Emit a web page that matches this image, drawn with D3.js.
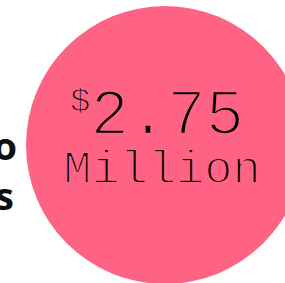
<!DOCTYPE html>
<html>
<head>
<meta charset="utf-8">
<script src="https://cdn.jsdelivr.net/npm/d3@7"></script>
<style>
  html, body { margin: 0; padding: 0; background: #fff; overflow: hidden; }
  svg { display: block; }
</style>
</head>
<body>
<div id="chart"></div>
<script>
// values
const amounts = [2.75];
const prefixes = ["$"];
const units = ["Million"];
const sideLabels = ["o", "s"]; // clipped bold labels on the left edge

const width = 285,
  height = 283;
const pink = "#ff6384";
const mono = "'Liberation Mono', 'Courier New', monospace";

const svg = d3
  .select("#chart")
  .append("svg")
  .attr("width", width)
  .attr("height", height)
  .attr("viewBox", [0, 0, width, height]);

const r = d3.scaleSqrt().domain([0, 2.75]).range([0, 139]);

const cx = 165,
  cy = 145;

svg
  .selectAll(".bubble")
  .data(amounts)
  .join("circle")
  .attr("class", "bubble")
  .attr("cx", cx)
  .attr("cy", cy)
  .attr("r", (d) => r(d))
  .attr("fill", pink);

// the reference face is a thin courier; thin the mono glyphs with a pink stroke
const valueText = svg
  .append("text")
  .attr("x", 70)
  .attr("y", 134)
  .attr("font-family", mono)
  .attr("fill", "#000")
  .attr("stroke", pink)
  .attr("paint-order", "fill");

valueText
  .append("tspan")
  .attr("font-size", 34)
  .attr("stroke-width", 1.3)
  .attr("dy", -23)
  .text(prefixes[0]);

valueText
  .append("tspan")
  .attr("font-size", 64)
  .attr("stroke-width", 2.6)
  .attr("dy", 23)
  .text(d3.format(".2f")(amounts[0]));

svg
  .append("text")
  .attr("x", 162)
  .attr("y", 183)
  .attr("text-anchor", "middle")
  .attr("font-family", mono)
  .attr("font-size", 47)
  .attr("fill", "#000")
  .attr("stroke", pink)
  .attr("stroke-width", 2)
  .text(units[0]);

svg
  .selectAll(".side")
  .data(sideLabels)
  .join("text")
  .attr("class", "side")
  .attr("x", (d, i) => (i === 0 ? 17 : 14))
  .attr("y", (d, i) => 160 + i * 50)
  .attr("text-anchor", "end")
  .attr("font-family", "'Open Sans', sans-serif")
  .attr("font-weight", 700)
  .attr("font-size", 38)
  .attr("fill", "#111")
  .text((d) => d);
</script>
</body>
</html>
